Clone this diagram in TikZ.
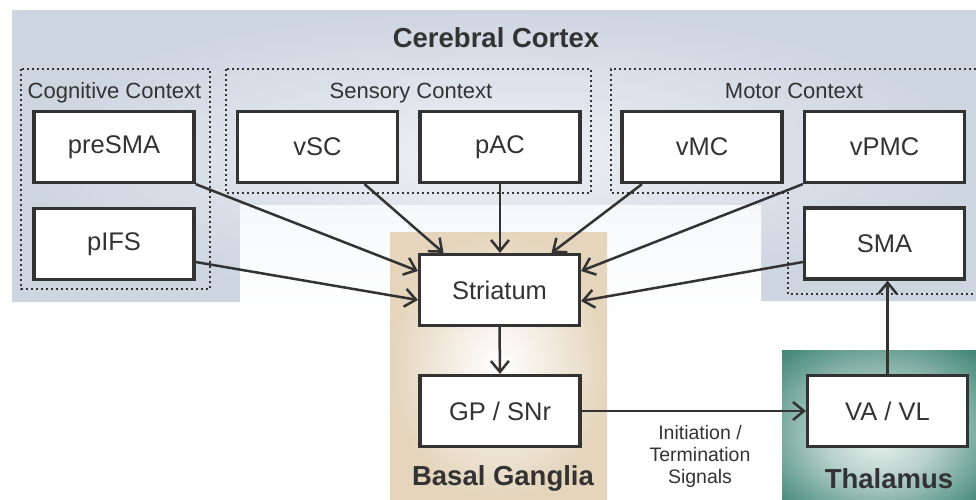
\documentclass[tikz,border=0pt]{standalone}
\usepackage{fontspec}
\setmainfont{Liberation Sans}
\usetikzlibrary{arrows.meta}

\definecolor{inkgray}{HTML}{333333}
\definecolor{cortexout}{HTML}{CDD5E1}
\definecolor{cortexin}{HTML}{EEF1F5}
\definecolor{basalout}{HTML}{E4D5BC}
\definecolor{thalout}{HTML}{2E7A6A}
\definecolor{thalin}{HTML}{E6EFEB}

% wide soft glow for the thalamus
\pgfdeclareradialshading{thalglow}{\pgfpoint{0bp}{-6bp}}{%
    color(0bp)=(thalin); color(14bp)=(thalin!75!thalout);
    color(26bp)=(thalin!40!thalout); color(36bp)=(thalout!90!thalin); color(46bp)=(thalout)}

\begin{document}
\begin{tikzpicture}[x=1pt, y=-1pt,
    box/.style={draw=inkgray, line width=3.2pt, fill=white, minimum width=160pt,
        minimum height=71pt, inner sep=0pt, text=inkgray, font=\fontsize{25.5}{30}\selectfont},
    frame/.style={draw=inkgray, line width=1.4pt, dash pattern=on 2pt off 3pt},
    context/.style={text=inkgray, font=\fontsize{22}{26}\selectfont, anchor=base},
    region/.style={text=inkgray, font=\bfseries\fontsize{27.5}{32}\selectfont, anchor=base},
    link/.style={draw=inkgray, line width=2.5pt, -{Straight Barb[length=11pt,width=18pt]}}
]
    \useasboundingbox (0,0) rectangle (976,499);

    % 1. Shaded areas: cortex, basal ganglia, thalamus
    \shade[inner color=cortexin, outer color=cortexout]
        (12,10) -- (976,10) -- (976,301) -- (761,301) -- (761,205)
        -- (240,205) -- (240,302) -- (12,302) -- cycle;
    \shade[top color=cortexin!50, bottom color=white] (240,205) rectangle (761,322);
    \shade[inner color=white, outer color=basalout] (390,232) rectangle (607,499);
    \shade[shading=thalglow] (782,350) rectangle (976,499);

    % 2. Dotted context frames
    \draw[frame] (21,69) rectangle (210,289);
    \draw[frame] (226,69) rectangle (591,193);
    \draw[frame] (976,69) -- (611,69) -- (611,193) -- (788,193) -- (788,294) -- (976,294);

    % 3. Titles
    \node[region] (cortex) at (496,47) {Cerebral Cortex};
    \node[region] (basal) at (503,485) {Basal Ganglia};
    \node[region] (thal) at (889,488) {Thalamus};
    \node[context] (cogctx) at (114.5,98) {Cognitive Context};
    \node[context] (senctx) at (411,98) {Sensory Context};
    \node[context] (motctx) at (794,98) {Motor Context};

    % 4. Areas
    \node[box] (preSMA) at (114,147) {preSMA};
    \node[box] (pIFS) at (114,244) {pIFS};
    \node[box] (vSC) at (317.5,147) {vSC};
    \node[box] (pAC) at (500,147) {pAC};
    \node[box] (vMC) at (702,147) {vMC};
    \node[box] (vPMC) at (884.5,147) {vPMC};
    \node[box] (SMA) at (884.5,243.5) {SMA};
    \node[box] (striatum) at (499.5,290) {Striatum};
    \node[box] (gpsnr) at (500,411) {GP / SNr};
    \node[box] (vavl) at (887.5,411) {VA / VL};

    % 5. Cortex to striatum
    \draw[link] (preSMA.south east) -- ([yshift=19pt]striatum.west);
    \draw[link] ([yshift=-18pt]pIFS.east) -- ([yshift=-10pt]striatum.west);
    \draw[link] ([xshift=47pt]vSC.south) -- ([xshift=-56pt]striatum.north);
    \draw[link] (pAC.south) -- (pAC.south |- striatum.north);
    \draw[link] ([xshift=-60pt]vMC.south) -- ([xshift=52pt]striatum.north);
    \draw[link] (vPMC.south west) -- ([yshift=19pt]striatum.east);
    \draw[link] ([yshift=-18.5pt]SMA.west) -- ([yshift=-11pt]striatum.east);

    % 6. Loop back through thalamus
    \draw[link] (striatum.south) -- (gpsnr.north);
    \draw[link] (gpsnr.east) -- (vavl.west);
    \draw[link] (vavl.north) -- (vavl.north |- SMA.south);

    % 7. Signal label
    \node[text=inkgray, align=center, font=\fontsize{19.5}{22}\selectfont] (signals)
        at (700,456) {Initiation /\\Termination\\Signals};
\end{tikzpicture}
\end{document}
